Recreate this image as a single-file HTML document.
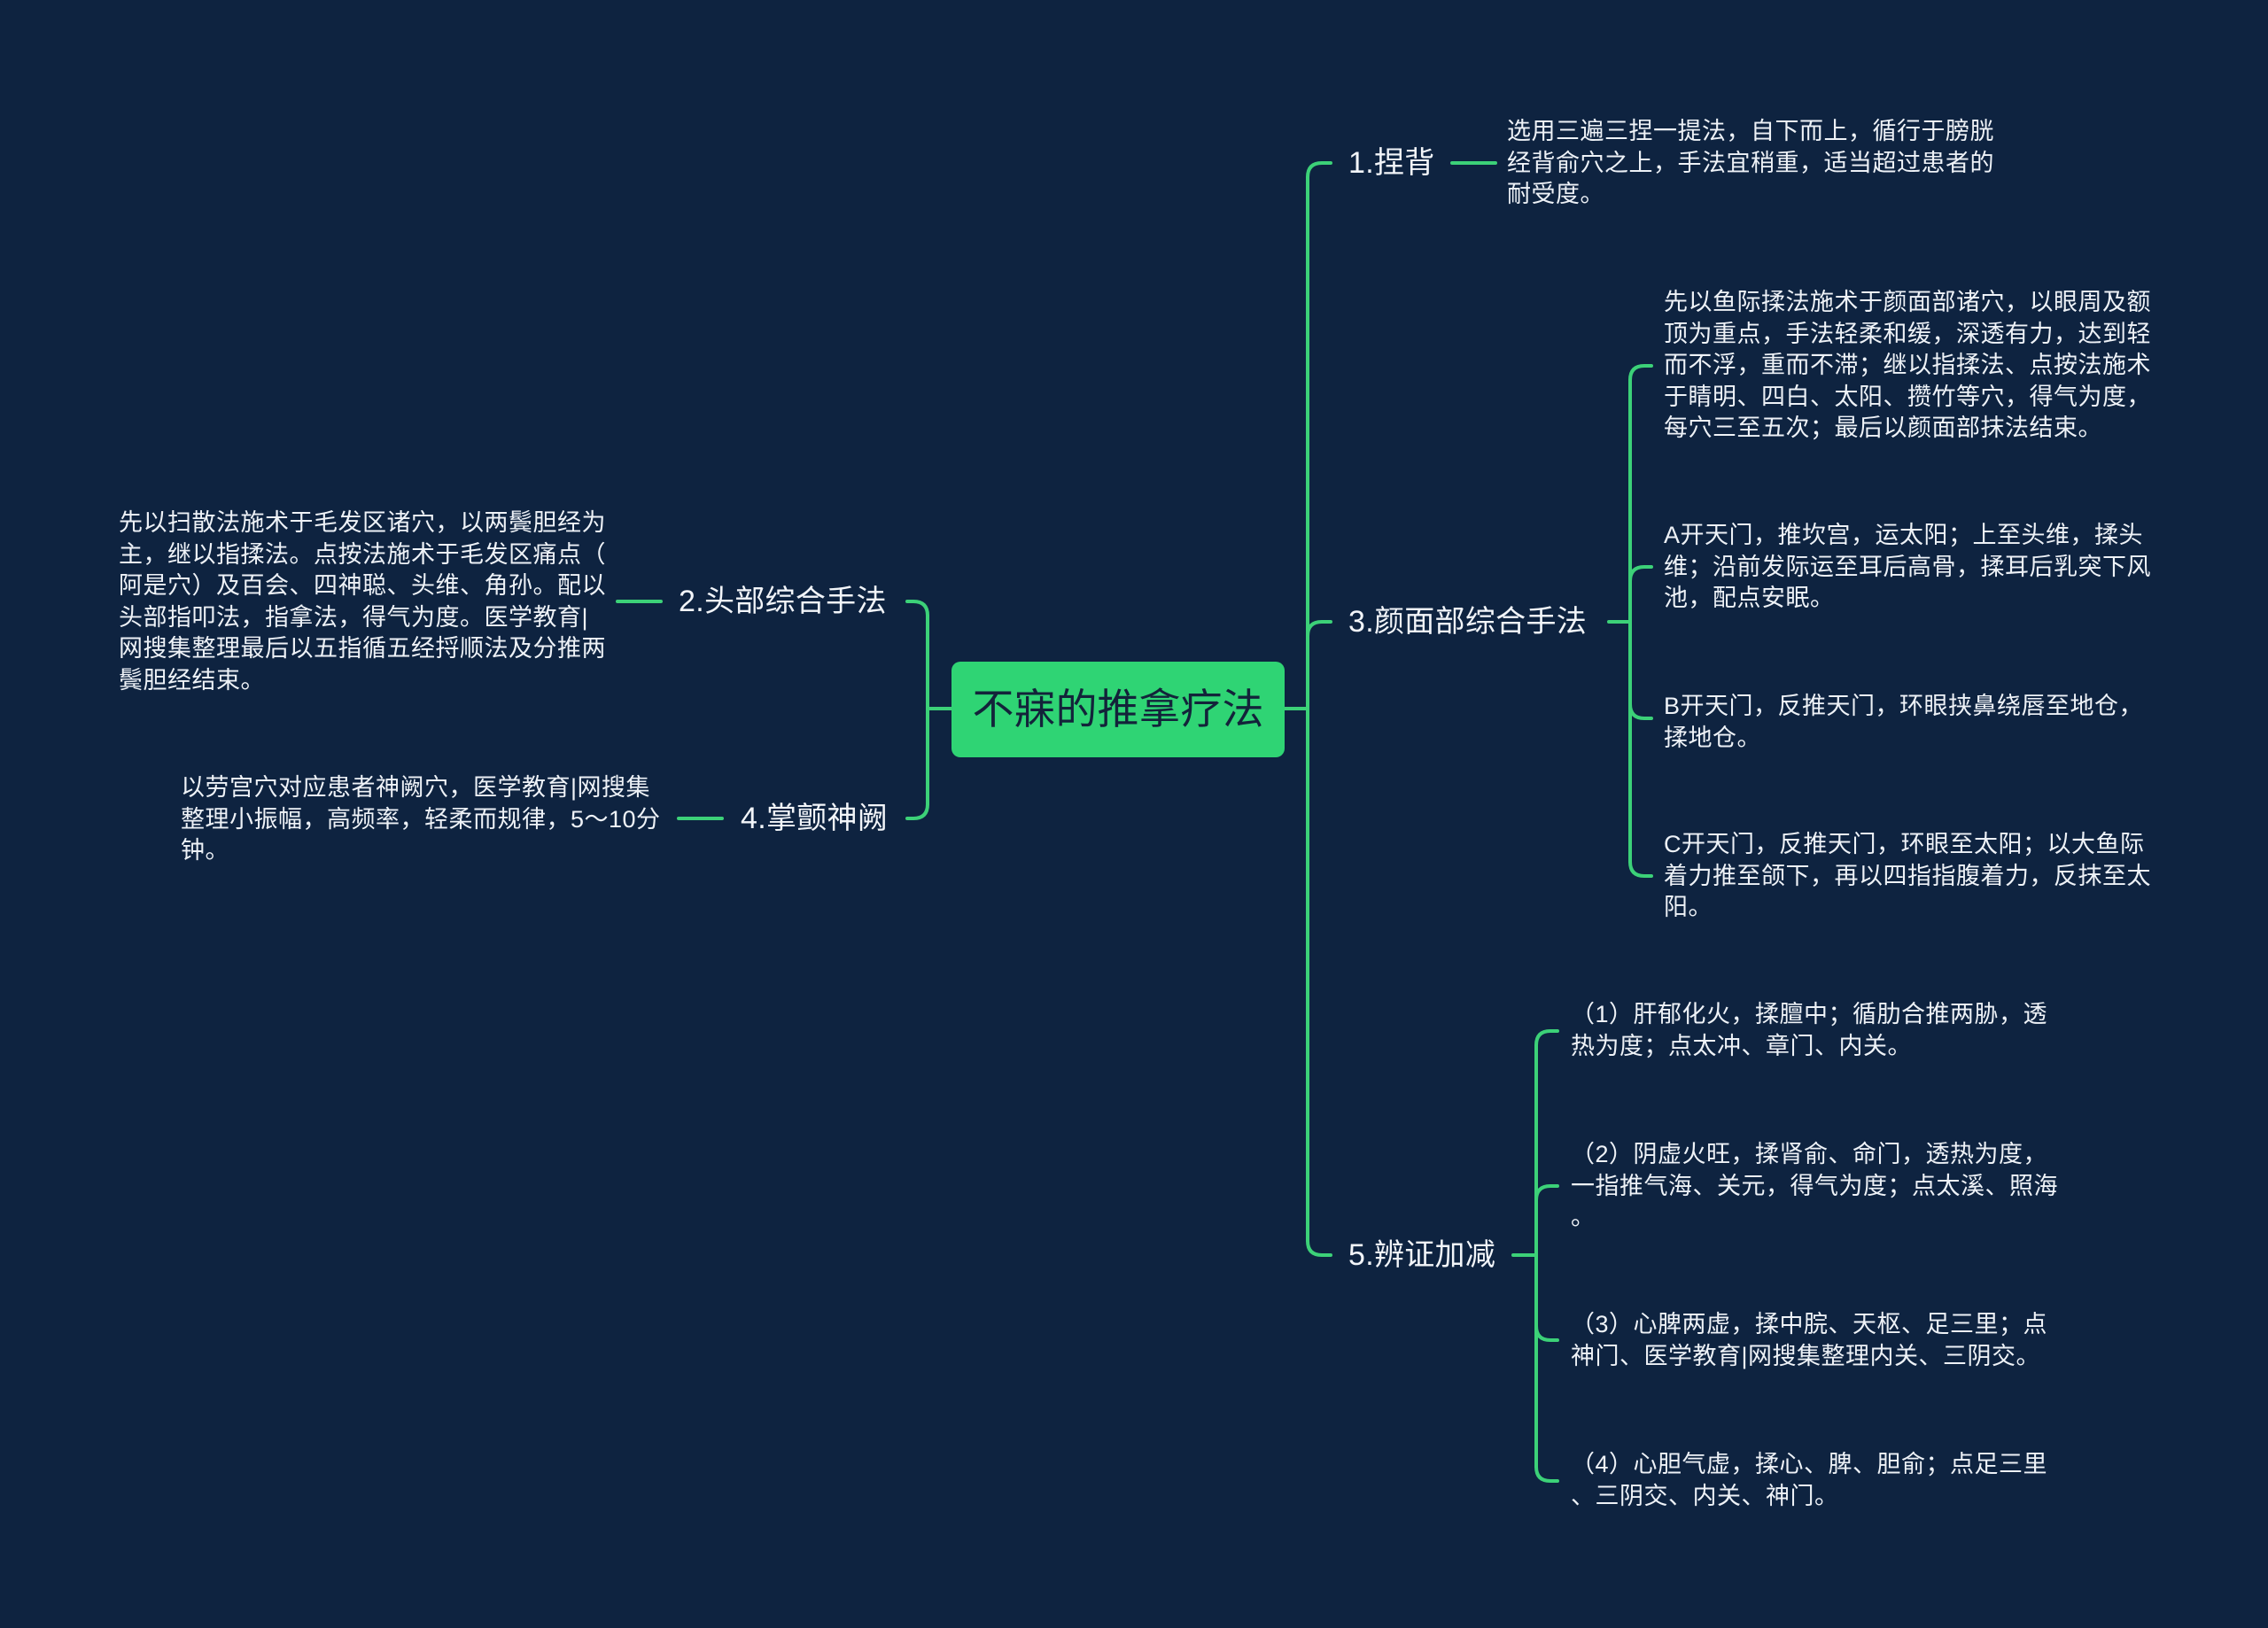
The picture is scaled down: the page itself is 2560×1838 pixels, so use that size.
<!DOCTYPE html>
<html><head><meta charset="utf-8"><style>
html,body{margin:0;padding:0}
body{width:2560px;height:1838px;background:#0e2340;position:relative;overflow:hidden;font-family:"Liberation Sans","Noto Sans CJK SC",sans-serif}
.t{position:absolute;color:#eef2f7;font-size:27px;line-height:35.5px;white-space:nowrap;letter-spacing:0.5px}
.l{position:absolute;color:#f2f5f9;font-size:34px;line-height:40px;white-space:nowrap;letter-spacing:0.3px}
.root{position:absolute;left:1074px;top:747px;width:376px;height:108px;background:#2fd474;border-radius:10px;color:#13233a;font-size:47px;line-height:108px;text-align:center}
svg{position:absolute;left:0;top:0}
</style></head><body>
<svg width="2560" height="1838" fill="none" stroke="#3cd178" stroke-width="4" stroke-linecap="round">
<path d="M1450 800 L1476 800"/>
<path d="M1476 200 L1476 1401"/>
<path d="M1476 200 Q1476 184 1492 184 L1502 184"/>
<path d="M1476 718 Q1476 702 1492 702 L1502 702"/>
<path d="M1476 1401 Q1476 1417 1492 1417 L1502 1417"/>
<path d="M1639 184 L1688 184"/>
<path d="M1816 702 L1840 702"/>
<path d="M1840 429 L1840 973"/>
<path d="M1840 429 Q1840 413 1856 413 L1864 413"/>
<path d="M1840 656 Q1840 640 1856 640 L1864 640"/>
<path d="M1840 795 Q1840 811 1856 811 L1864 811"/>
<path d="M1840 973 Q1840 989 1856 989 L1864 989"/>
<path d="M1708 1417 L1734 1417"/>
<path d="M1734 1180 L1734 1656"/>
<path d="M1734 1180 Q1734 1164 1750 1164 L1758 1164"/>
<path d="M1734 1355 Q1734 1339 1750 1339 L1758 1339"/>
<path d="M1734 1497 Q1734 1513 1750 1513 L1758 1513"/>
<path d="M1734 1656 Q1734 1672 1750 1672 L1758 1672"/>
<path d="M1047 800 L1074 800"/>
<path d="M1047 695 L1047 908"/>
<path d="M1047 695 Q1047 679 1031 679 L1024 679"/>
<path d="M1047 908 Q1047 924 1031 924 L1024 924"/>
<path d="M697 679 L746 679"/>
<path d="M766 924 L815 924"/>
</svg>

<div class="root">不寐的推拿疗法</div>

<div class="l" style="left:1522px;top:164px">1.捏背</div>
<div class="l" style="left:1522px;top:682px">3.颜面部综合手法</div>
<div class="l" style="left:1522px;top:1397px">5.辨证加减</div>
<div class="l" style="left:766px;top:659px">2.头部综合手法</div>
<div class="l" style="left:836px;top:904px">4.掌颤神阙</div>

<div class="t" style="left:1701px;top:131px">选用三遍三捏一提法，自下而上，循行于膀胱<br>经背俞穴之上，手法宜稍重，适当超过患者的<br>耐受度。</div>

<div class="t" style="left:1878px;top:324px">先以鱼际揉法施术于颜面部诸穴，以眼周及额<br>顶为重点，手法轻柔和缓，深透有力，达到轻<br>而不浮，重而不滞；继以指揉法、点按法施术<br>于睛明、四白、太阳、攒竹等穴，得气为度，<br>每穴三至五次；最后以颜面部抹法结束。</div>
<div class="t" style="left:1878px;top:587px">A开天门，推坎宫，运太阳；上至头维，揉头<br>维；沿前发际运至耳后高骨，揉耳后乳突下风<br>池，配点安眠。</div>
<div class="t" style="left:1878px;top:780px">B开天门，反推天门，环眼挟鼻绕唇至地仓，<br>揉地仓。</div>
<div class="t" style="left:1878px;top:936px">C开天门，反推天门，环眼至太阳；以大鱼际<br>着力推至颌下，再以四指指腹着力，反抹至太<br>阳。</div>

<div class="t" style="left:1773px;top:1128px">（1）肝郁化火，揉膻中；循肋合推两胁，透<br>热为度；点太冲、章门、内关。</div>
<div class="t" style="left:1773px;top:1286px">（2）阴虚火旺，揉肾俞、命门，透热为度，<br>一指推气海、关元，得气为度；点太溪、照海<br>。</div>
<div class="t" style="left:1773px;top:1478px">（3）心脾两虚，揉中脘、天枢、足三里；点<br>神门、医学教育|网搜集整理内关、三阴交。</div>
<div class="t" style="left:1773px;top:1636px">（4）心胆气虚，揉心、脾、胆俞；点足三里<br>、三阴交、内关、神门。</div>

<div class="t" style="left:134px;top:573px">先以扫散法施术于毛发区诸穴，以两鬓胆经为<br>主，继以指揉法。点按法施术于毛发区痛点（<br>阿是穴）及百会、四神聪、头维、角孙。配以<br>头部指叩法，指拿法，得气为度。医学教育|<br>网搜集整理最后以五指循五经捋顺法及分推两<br>鬓胆经结束。</div>
<div class="t" style="left:204px;top:872px">以劳宫穴对应患者神阙穴，医学教育|网搜集<br>整理小振幅，高频率，轻柔而规律，5～10分<br>钟。</div>
</body></html>
